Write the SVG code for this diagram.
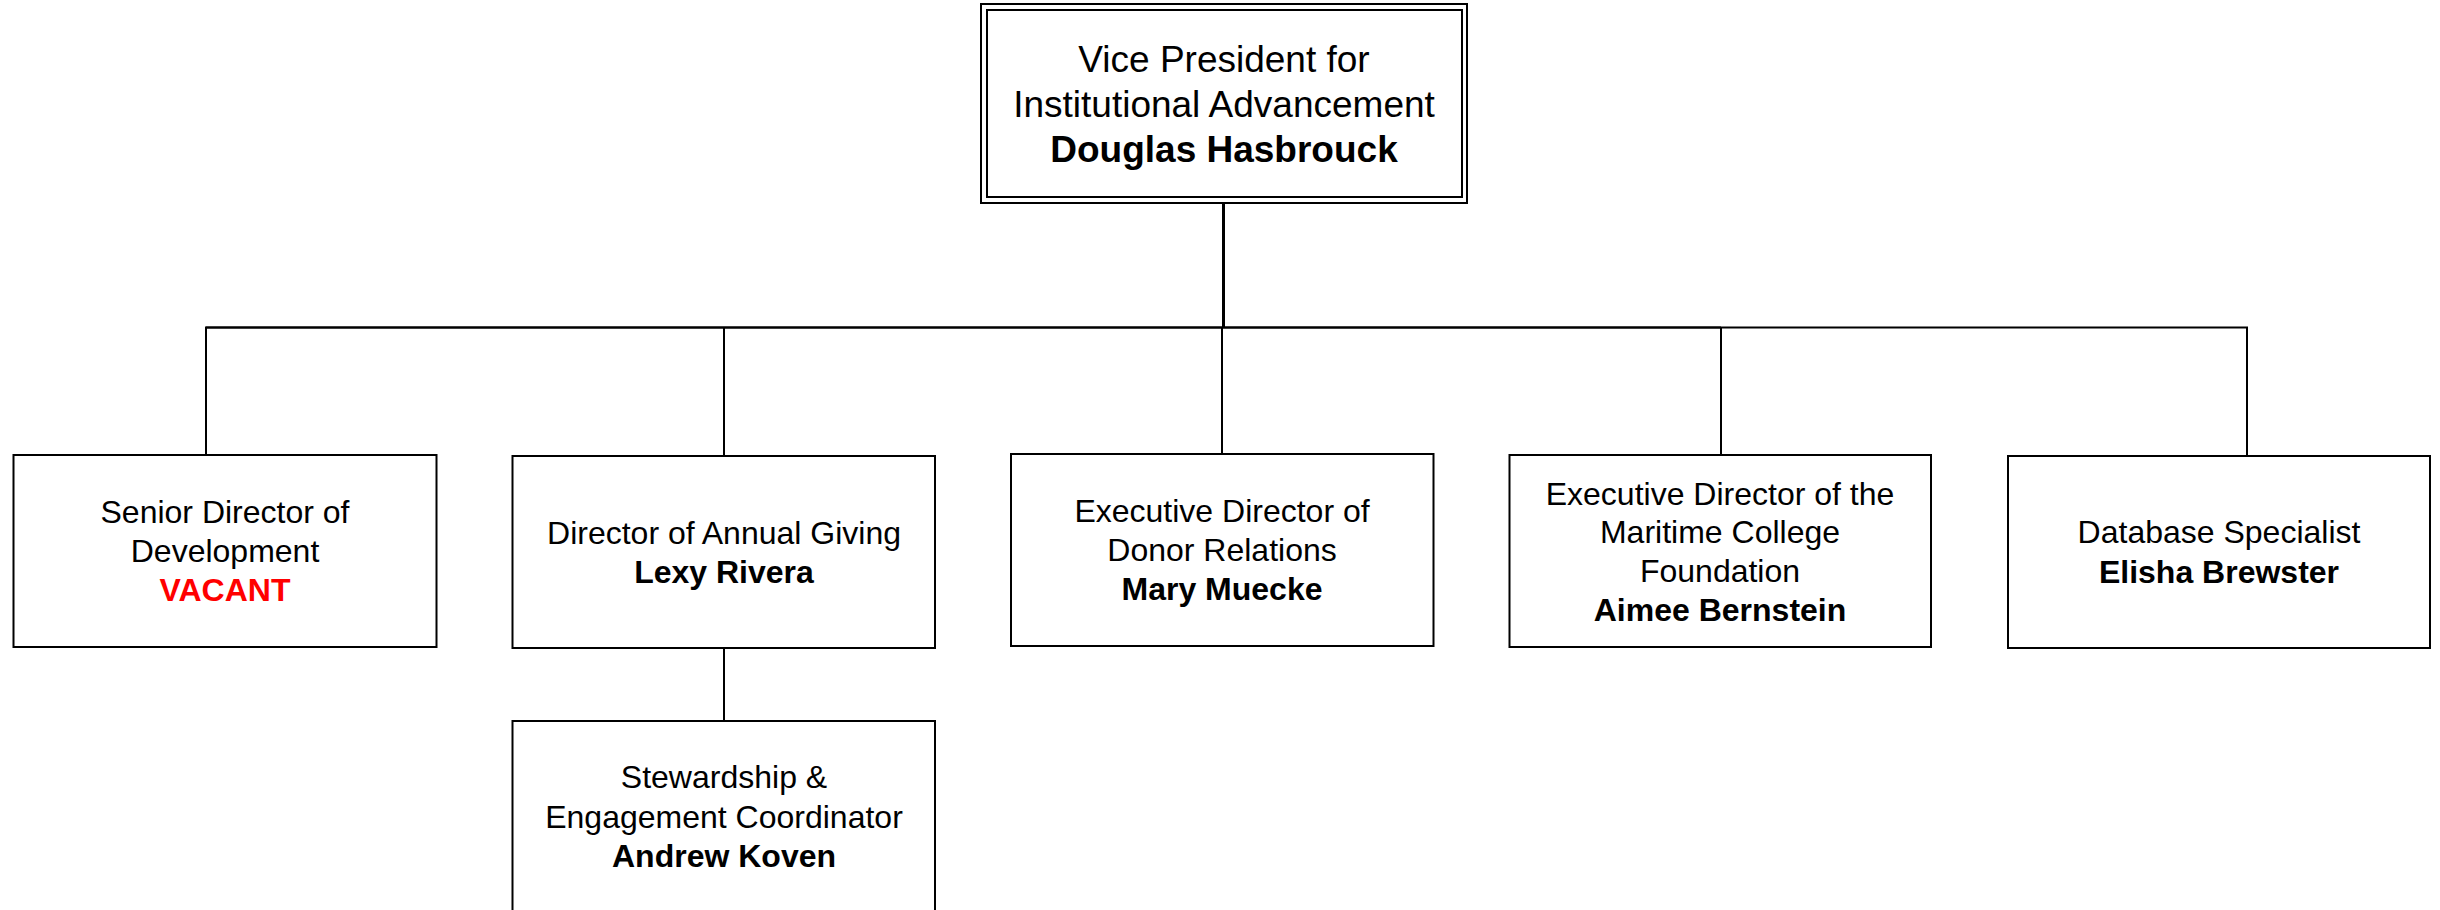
<svg xmlns="http://www.w3.org/2000/svg" width="2440" height="910" viewBox="0 0 2440 910">
<style>
.box{fill:#fff;stroke:#000;stroke-width:2}
.ln{fill:none;stroke:#000;stroke-width:2}
.thk{stroke-width:3}
text{font-family:"Liberation Sans",Arial,sans-serif;text-anchor:middle;fill:#000}
.t{font-size:32px}
.tt{font-size:37px}
.b{font-weight:bold}
.red{fill:#ff0000}
</style>
<rect width="2440" height="910" fill="#fff"/>
<g id="connectors">
<line class="ln thk" x1="1223.5" y1="203" x2="1223.5" y2="328"/>
<polyline class="ln" points="206,456 206,327.5 2247,327.5 2247,456"/>
<line class="ln" x1="206" y1="327.5" x2="1721" y2="327.5" stroke-width="2.5"/>
<line class="ln" x1="724" y1="327.5" x2="724" y2="456"/>
<line class="ln" x1="1222" y1="327.5" x2="1222" y2="454"/>
<line class="ln" x1="1721" y1="327.5" x2="1721" y2="455"/>
<line class="ln" x1="724" y1="648" x2="724" y2="721"/>
</g>
<g id="vp">
<rect class="box" x="981" y="4" width="486" height="199"/>
<rect class="box" x="987" y="10" width="475" height="187"/>
<text class="tt" x="1224" y="72">Vice President for</text>
<text class="tt" x="1224" y="117">Institutional Advancement</text>
<text class="tt b" x="1224" y="162">Douglas Hasbrouck</text>
</g>
<g id="senior">
<rect class="box" x="13.5" y="455" width="423" height="192"/>
<text class="t" x="225" y="523">Senior Director of</text>
<text class="t" x="225" y="562">Development</text>
<text class="t b red" x="225" y="601">VACANT</text>
</g>
<g id="annual">
<rect class="box" x="512.5" y="456" width="422.5" height="192"/>
<text class="t" x="724" y="544">Director of Annual Giving</text>
<text class="t b" x="724" y="583">Lexy Rivera</text>
</g>
<g id="donor">
<rect class="box" x="1011" y="454" width="422.5" height="192"/>
<text class="t" x="1222" y="522">Executive Director of</text>
<text class="t" x="1222" y="561">Donor Relations</text>
<text class="t b" x="1222" y="600">Mary Muecke</text>
</g>
<g id="foundation">
<rect class="box" x="1509.5" y="455" width="421.5" height="192"/>
<text class="t" x="1720" y="504.5">Executive Director of the</text>
<text class="t" x="1720" y="543">Maritime College</text>
<text class="t" x="1720" y="582">Foundation</text>
<text class="t b" x="1720" y="621">Aimee Bernstein</text>
</g>
<g id="database">
<rect class="box" x="2008" y="456" width="422" height="192"/>
<text class="t" x="2219" y="543">Database Specialist</text>
<text class="t b" x="2219" y="582.5">Elisha Brewster</text>
</g>
<g id="stewardship">
<rect class="box" x="512.5" y="721" width="422.5" height="200"/>
<text class="t" x="724" y="788">Stewardship &amp;</text>
<text class="t" x="724" y="828">Engagement Coordinator</text>
<text class="t b" x="724" y="867">Andrew Koven</text>
</g>
</svg>
